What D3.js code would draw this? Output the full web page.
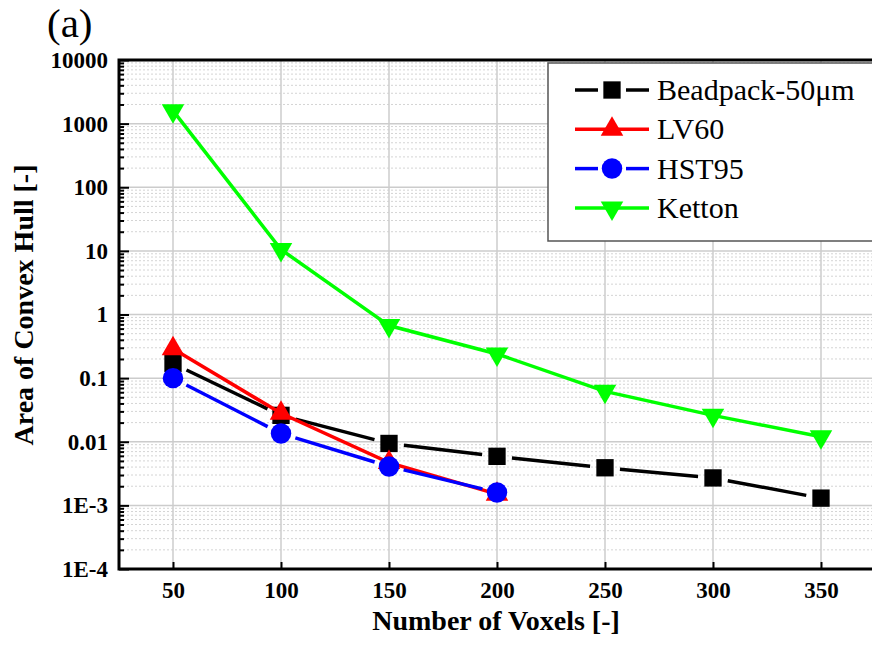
<!DOCTYPE html>
<html>
<head>
<meta charset="utf-8">
<script src="https://cdn.jsdelivr.net/npm/d3@7/dist/d3.min.js"></script>
<style>
    body {
        margin: 0;
        background: #fff;
        overflow: hidden;
    }
</style>
</head>
<body>
<svg id="chart" width="872" height="648"></svg>
<script>
    // values
    const voxels = [50, 100, 150, 200, 250, 300, 350];
    const beadpack = [0.17, 0.026, 0.0094, 0.0059, 0.0039, 0.0027, 0.0013];
    const lv60 = [0.29, 0.028, 0.0047, 0.0015];
    const hst95 = [0.1, 0.0135, 0.0041, 0.0016];
    const ketton = [1600, 10.5, 0.67, 0.24, 0.062, 0.026, 0.012];

    const seriesNames = ['Beadpack-50\u03bcm', 'LV60', 'HST95', 'Ketton'];
    const seriesColors = ['#000000', '#ff0000', '#0000ff', '#00ff00'];
    const seriesSymbols = ['square', 'up', 'circle', 'down'];
    const seriesGaps = [true, false, true, false];

    const yTickVals = [1e-4, 1e-3, 0.01, 0.1, 1, 10, 100, 1000, 10000];
    const yTickLabels = ['1E-4', '1E-3', '0.01', '0.1', '1', '10', '100', '1000', '10000'];
    const xTickVals = [50, 100, 150, 200, 250, 300, 350];

    const serif = "'Liberation Serif', 'Times New Roman', Times, 'DejaVu Serif', serif";

    const series = [beadpack, lv60, hst95, ketton].map(function(vals, i) {
        return {
            name: seriesNames[i],
            color: seriesColors[i],
            symbol: seriesSymbols[i],
            gap: seriesGaps[i],
            points: vals.map(function(v, j) { return {x: voxels[j], y: v}; })
        };
    });

    const pLeft = 119, pRight = 875, pTop = 60, pBottom = 569;

    const svg = d3.select('#chart');

    const x = d3.scaleLinear().domain([25, 375]).range([pLeft, pRight]);
    const y = d3.scaleLog().domain([1e-4, 1e4]).range([pBottom, pTop]);

    // minor values 2..9 per decade
    var minors = [];
    for (var e = -4; e < 4; e++) {
        for (var m = 2; m <= 9; m++) minors.push(m * Math.pow(10, e));
    }

    // grid
    const grid = svg.append('g');
    grid.selectAll('.minor').data(minors).enter().append('line')
        .attr('x1', pLeft).attr('x2', pRight)
        .attr('y1', function(d) { return y(d); })
        .attr('y2', function(d) { return y(d); })
        .attr('stroke', '#d4d4d4')
        .attr('stroke-width', 1)
        .attr('stroke-dasharray', '2,2');
    grid.selectAll('.majY').data(yTickVals).enter().append('line')
        .attr('x1', pLeft).attr('x2', pRight)
        .attr('y1', function(d) { return y(d); })
        .attr('y2', function(d) { return y(d); })
        .attr('stroke', '#cccccc')
        .attr('stroke-width', 1.5);
    grid.selectAll('.majX').data(xTickVals).enter().append('line')
        .attr('y1', pTop).attr('y2', pBottom)
        .attr('x1', function(d) { return x(d); })
        .attr('x2', function(d) { return x(d); })
        .attr('stroke', '#cccccc')
        .attr('stroke-width', 1.5);

    // axes
    const yAxis = svg.append('g')
        .attr('transform', 'translate(' + pLeft + ',0)')
        .call(d3.axisLeft(y).tickValues(yTickVals)
            .tickFormat(function(d, i) { return yTickLabels[i]; })
            .tickSize(-10).tickPadding(11));
    yAxis.select('.domain').remove();
    yAxis.selectAll('line').attr('stroke', '#000').attr('stroke-width', 2);
    yAxis.selectAll('text')
        .attr('fill', '#000')
        .style('font-family', serif)
        .style('font-size', '23px')
        .style('font-weight', 'bold');

    const yMinor = svg.append('g')
        .attr('transform', 'translate(' + pLeft + ',0)')
        .call(d3.axisLeft(y).tickValues(minors).tickFormat('').tickSize(-5));
    yMinor.select('.domain').remove();
    yMinor.selectAll('line').attr('stroke', '#000').attr('stroke-width', 2);

    const xAxis = svg.append('g')
        .attr('transform', 'translate(0,' + pBottom + ')')
        .call(d3.axisBottom(x).tickValues(xTickVals)
            .tickSize(-7).tickPadding(13));
    xAxis.select('.domain').remove();
    xAxis.selectAll('line').attr('stroke', '#000').attr('stroke-width', 2);
    xAxis.selectAll('text')
        .attr('fill', '#000')
        .style('font-family', serif)
        .style('font-size', '23px')
        .style('font-weight', 'bold');

    // frame
    svg.append('path')
        .attr('d', 'M' + pRight + ',' + pTop + 'H' + pLeft + 'V' + pBottom + 'H' + pRight)
        .attr('fill', 'none')
        .attr('stroke', '#000')
        .attr('stroke-width', 3);

    function symbolPath(kind) {
        if (kind == 'square') return d3.symbol().type(d3.symbolSquare).size(300)();
        if (kind == 'circle') return d3.symbol().type(d3.symbolCircle).size(330)();
        return d3.symbol().type(d3.symbolTriangle).size(220)();
    }

    function segPath(p0, p1, gap) {
        var x0 = x(p0.x), y0 = y(p0.y), x1 = x(p1.x), y1 = y(p1.y);
        var dx = x1 - x0, dy = y1 - y0, len = Math.sqrt(dx * dx + dy * dy);
        var ux = dx / len, uy = dy / len;
        return 'M' + (x0 + ux * gap) + ',' + (y0 + uy * gap) +
            'L' + (x1 - ux * gap) + ',' + (y1 - uy * gap);
    }

    const plot = svg.append('g');
    series.forEach(function(s) {
        var g = plot.append('g');
        if (s.gap) {
            for (var i = 0; i < s.points.length - 1; i++) {
                g.append('path')
                    .attr('d', segPath(s.points[i], s.points[i + 1], 15))
                    .attr('stroke', s.color)
                    .attr('stroke-width', 3.5)
                    .attr('fill', 'none');
            }
        } else {
            g.append('path')
                .datum(s.points)
                .attr('d', d3.line()
                    .x(function(d) { return x(d.x); })
                    .y(function(d) { return y(d.y); }))
                .attr('stroke', s.color)
                .attr('stroke-width', 3.5)
                .attr('fill', 'none');
        }
        g.selectAll('.mark').data(s.points).enter().append('path')
            .attr('d', symbolPath(s.symbol))
            .attr('transform', function(d) {
                return 'translate(' + x(d.x) + ',' + y(d.y) + ')' + (s.symbol == 'down' ? 'rotate(180)' : '');
            })
            .attr('fill', s.color);
    });

    // legend
    const legend = svg.append('g');
    legend.append('rect')
        .attr('x', 548).attr('y', 63)
        .attr('width', 340).attr('height', 178)
        .attr('fill', '#fff')
        .attr('stroke', '#555')
        .attr('stroke-width', 1.5);
    series.forEach(function(s, i) {
        var cy = 90 + i * 39.3;
        var row = legend.append('g');
        if (s.gap) {
            row.append('line').attr('x1', 575).attr('x2', 598).attr('y1', cy).attr('y2', cy)
                .attr('stroke', s.color).attr('stroke-width', 3.5);
            row.append('line').attr('x1', 626).attr('x2', 649).attr('y1', cy).attr('y2', cy)
                .attr('stroke', s.color).attr('stroke-width', 3.5);
        } else {
            row.append('line').attr('x1', 575).attr('x2', 649).attr('y1', cy).attr('y2', cy)
                .attr('stroke', s.color).attr('stroke-width', 3.5);
        }
        row.append('path')
            .attr('d', symbolPath(s.symbol))
            .attr('transform', 'translate(612,' + cy + ')' + (s.symbol == 'down' ? 'rotate(180)' : ''))
            .attr('fill', s.color);
        row.append('text')
            .attr('x', 657).attr('y', cy + 10)
            .style('font-family', serif)
            .style('font-size', '30px')
            .attr('fill', '#000')
            .text(s.name);
    });

    // titles
    svg.append('text')
        .attr('x', 496).attr('y', 630)
        .attr('text-anchor', 'middle')
        .style('font-family', serif)
        .style('font-size', '28px')
        .style('font-weight', 'bold')
        .text('Number of Voxels [-]');

    svg.append('text')
        .attr('transform', 'translate(33,305)rotate(-90)')
        .attr('text-anchor', 'middle')
        .style('font-family', serif)
        .style('font-size', '28px')
        .style('font-weight', 'bold')
        .text('Area of Convex Hull [-]');

    svg.append('text')
        .attr('x', 47).attr('y', 37)
        .style('font-family', serif)
        .style('font-size', '41px')
        .text('(a)');
</script>
</body>
</html>
